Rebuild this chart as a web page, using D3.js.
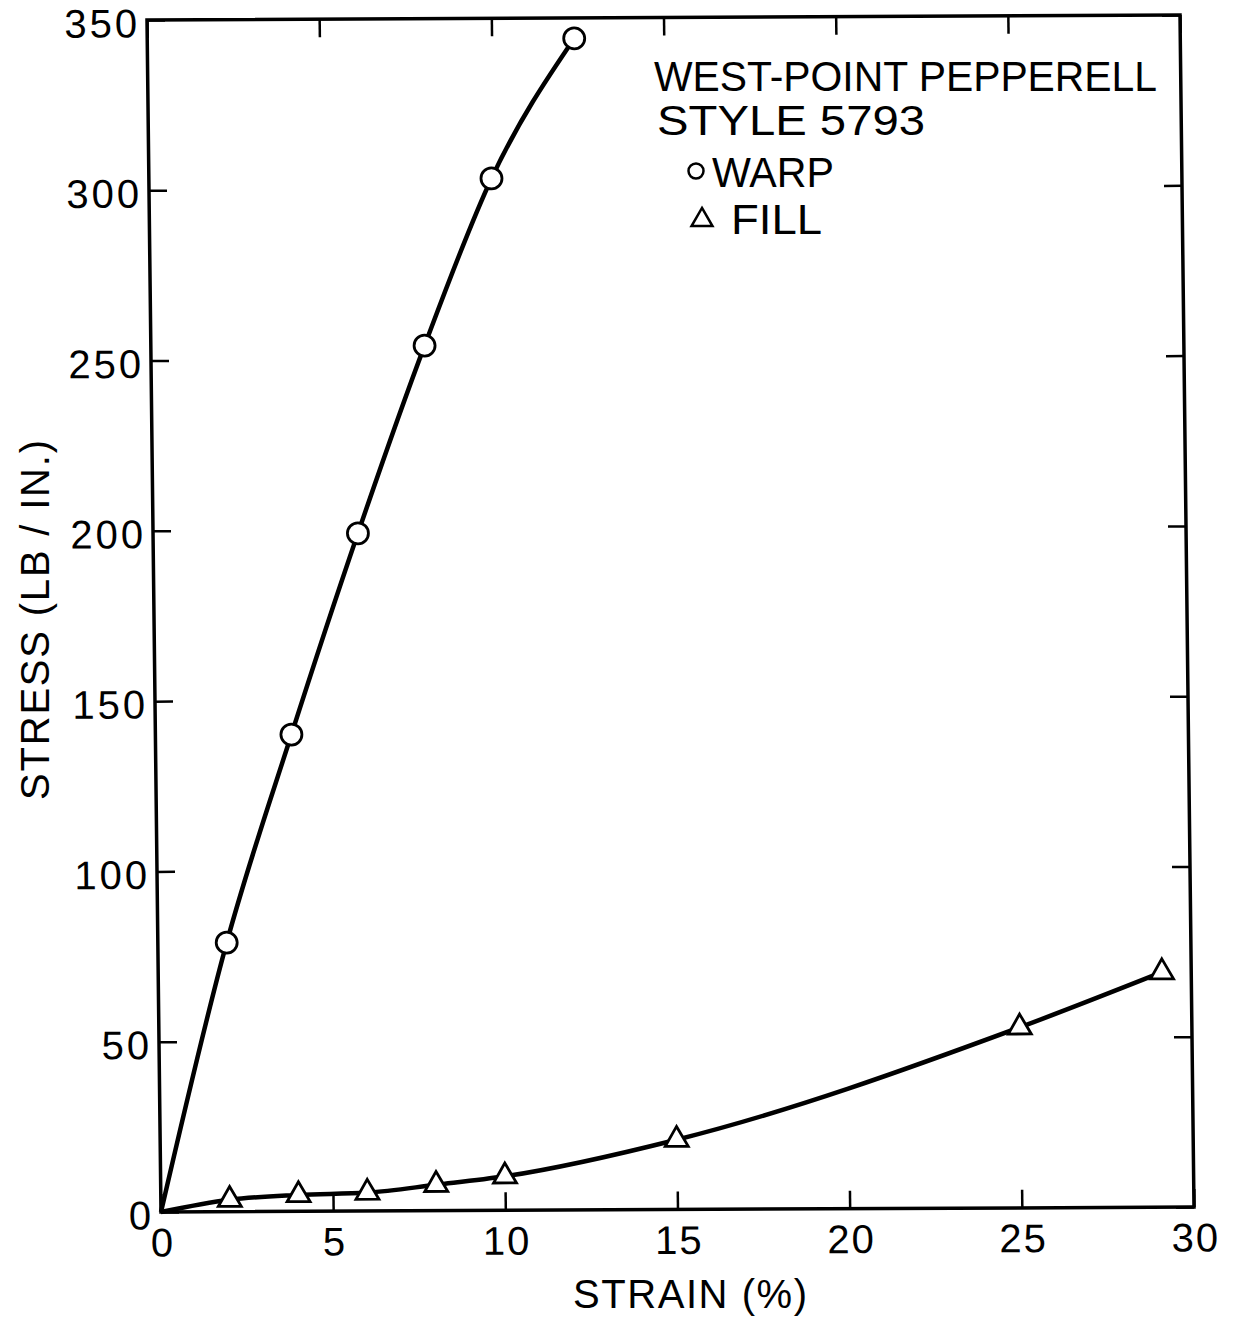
<!DOCTYPE html>
<html>
<head>
<meta charset="utf-8">
<script src="https://cdn.jsdelivr.net/npm/d3@7"></script>
<style>
  body { margin: 0; background: #fff; }
  text { font-family: "Liberation Sans", Arial, sans-serif; fill: #000; }
</style>
</head>
<body>
<svg id="chart" width="1235" height="1320"></svg>
<script>
// Stress-strain data, fabric style 5793
const warpStrain = [2.0, 3.95, 5.95, 7.95, 9.95, 12.4];
const warpStress = [79, 140, 199, 254, 303, 344];
const fillStrain = [2, 4, 6, 8, 10, 15, 25, 29.15];
const fillStress = [3.5, 4.8, 5.4, 7.6, 10, 20.5, 53, 69];

const strainTicks = [0, 5, 10, 15, 20, 25, 30];
const stressTicks = [0, 50, 100, 150, 200, 250, 300, 350];

const legendTitle = ["WEST-POINT PEPPERELL", "STYLE 5793"];
const seriesNames = ["WARP", "FILL"];

const svg = d3.select("#chart");
const W = 1033, H = 1192;
const FONT = 40;

const x = d3.scaleLinear().domain([0, 30]).range([0, W]);
const y = d3.scaleLinear().domain([0, 350]).range([H, 0]);

// plot frame is very slightly sheared on the page
const plot = svg.append("g")
  .attr("transform", "matrix(1,-0.0048,0.01174,1,147,20)");

function styleAxis(g, showText) {
  g.select(".domain").remove();
  g.selectAll(".tick line").attr("stroke", "#000").attr("stroke-width", 2.5);
  g.selectAll(".tick text")
    .attr("font-size", FONT)
    .attr("font-family", '"Liberation Sans", Arial, sans-serif')
    .style("display", showText ? null : "none");
}

// bottom axis with labels, ticks pointing inward
plot.append("g")
  .attr("transform", `translate(0,${H})`)
  .call(d3.axisBottom(x).tickValues(strainTicks).tickSize(-18).tickPadding(16).tickFormat(d3.format("d")))
  .call(g => styleAxis(g, true))
  .call(g => g.selectAll(".tick text").attr("letter-spacing", 2).attr("dx", 1));

// top axis, ticks only
plot.append("g")
  .call(d3.axisTop(x).tickValues(strainTicks).tickSize(-18))
  .call(g => styleAxis(g, false));

// left axis with labels
plot.append("g")
  .call(d3.axisLeft(y).tickValues(stressTicks).tickSize(-18).tickPadding(7).tickFormat(d3.format("d")))
  .call(g => styleAxis(g, true))
  .call(g => g.selectAll(".tick text").attr("dy", "0.42em").attr("letter-spacing", 3));

// right axis, ticks only
plot.append("g")
  .attr("transform", `translate(${W},0)`)
  .call(d3.axisRight(y).tickValues(stressTicks).tickSize(-18))
  .call(g => styleAxis(g, false));

// frame
plot.append("rect")
  .attr("x", 0).attr("y", 0).attr("width", W).attr("height", H)
  .attr("fill", "none").attr("stroke", "#000").attr("stroke-width", 3.5);

const warp = [[0, 0]].concat(warpStrain.map((s, i) => [s, warpStress[i]]));
const fill = [[0, 0]].concat(fillStrain.map((s, i) => [s, fillStress[i]]));

const line = d3.line()
  .x(d => x(d[0]))
  .y(d => y(d[1]))
  .curve(d3.curveMonotoneX);

plot.append("path").datum(warp)
  .attr("d", line).attr("fill", "none").attr("stroke", "#000").attr("stroke-width", 4.5)
  .attr("stroke-linejoin", "round");
plot.append("path").datum(fill)
  .attr("d", line).attr("fill", "none").attr("stroke", "#000").attr("stroke-width", 4.5)
  .attr("stroke-linejoin", "round");

// warp markers: open circles
plot.selectAll("circle.warp")
  .data(warp.slice(1))
  .join("circle")
  .attr("class", "warp")
  .attr("cx", d => x(d[0])).attr("cy", d => y(d[1]))
  .attr("r", 10.5)
  .attr("fill", "#fff").attr("stroke", "#000").attr("stroke-width", 2.8);

// fill markers: open triangles
const tri = d3.symbol(d3.symbolTriangle, 229);
plot.selectAll("path.fill")
  .data(fill.slice(1))
  .join("path")
  .attr("class", "fill")
  .attr("d", tri)
  .attr("transform", d => `translate(${x(d[0])},${y(d[1])})`)
  .attr("fill", "#fff").attr("stroke", "#000").attr("stroke-width", 2.8)
  .attr("stroke-linejoin", "miter");

// axis titles
svg.append("text")
  .attr("x", 573).attr("y", 1308)
  .attr("font-size", FONT)
  .attr("textLength", 234).attr("lengthAdjust", "spacing")
  .text("STRAIN (%)");

svg.append("text")
  .attr("transform", "translate(49,800) rotate(-90)")
  .attr("font-size", FONT)
  .attr("textLength", 360).attr("lengthAdjust", "spacing")
  .text("STRESS (LB / IN.)");

// legend block
const legend = svg.append("g");
legend.append("text")
  .attr("x", 654).attr("y", 91).attr("font-size", 42)
  .attr("textLength", 503).attr("lengthAdjust", "spacingAndGlyphs")
  .text(legendTitle[0]);
legend.append("text")
  .attr("x", 657).attr("y", 135).attr("font-size", 42)
  .attr("textLength", 268).attr("lengthAdjust", "spacingAndGlyphs")
  .text(legendTitle[1]);

legend.append("circle")
  .attr("cx", 696).attr("cy", 171).attr("r", 7.5)
  .attr("fill", "#fff").attr("stroke", "#000").attr("stroke-width", 2.5);
legend.append("text")
  .attr("x", 712).attr("y", 187).attr("font-size", 42)
  .attr("textLength", 122).attr("lengthAdjust", "spacingAndGlyphs")
  .text(seriesNames[0]);

legend.append("path")
  .attr("d", d3.symbol(d3.symbolTriangle, 190)())
  .attr("transform", "translate(702,220)")
  .attr("fill", "#fff").attr("stroke", "#000").attr("stroke-width", 2.5);
legend.append("text")
  .attr("x", 731).attr("y", 234).attr("font-size", 42)
  .attr("textLength", 91).attr("lengthAdjust", "spacingAndGlyphs")
  .text(seriesNames[1]);
</script>
</body>
</html>
